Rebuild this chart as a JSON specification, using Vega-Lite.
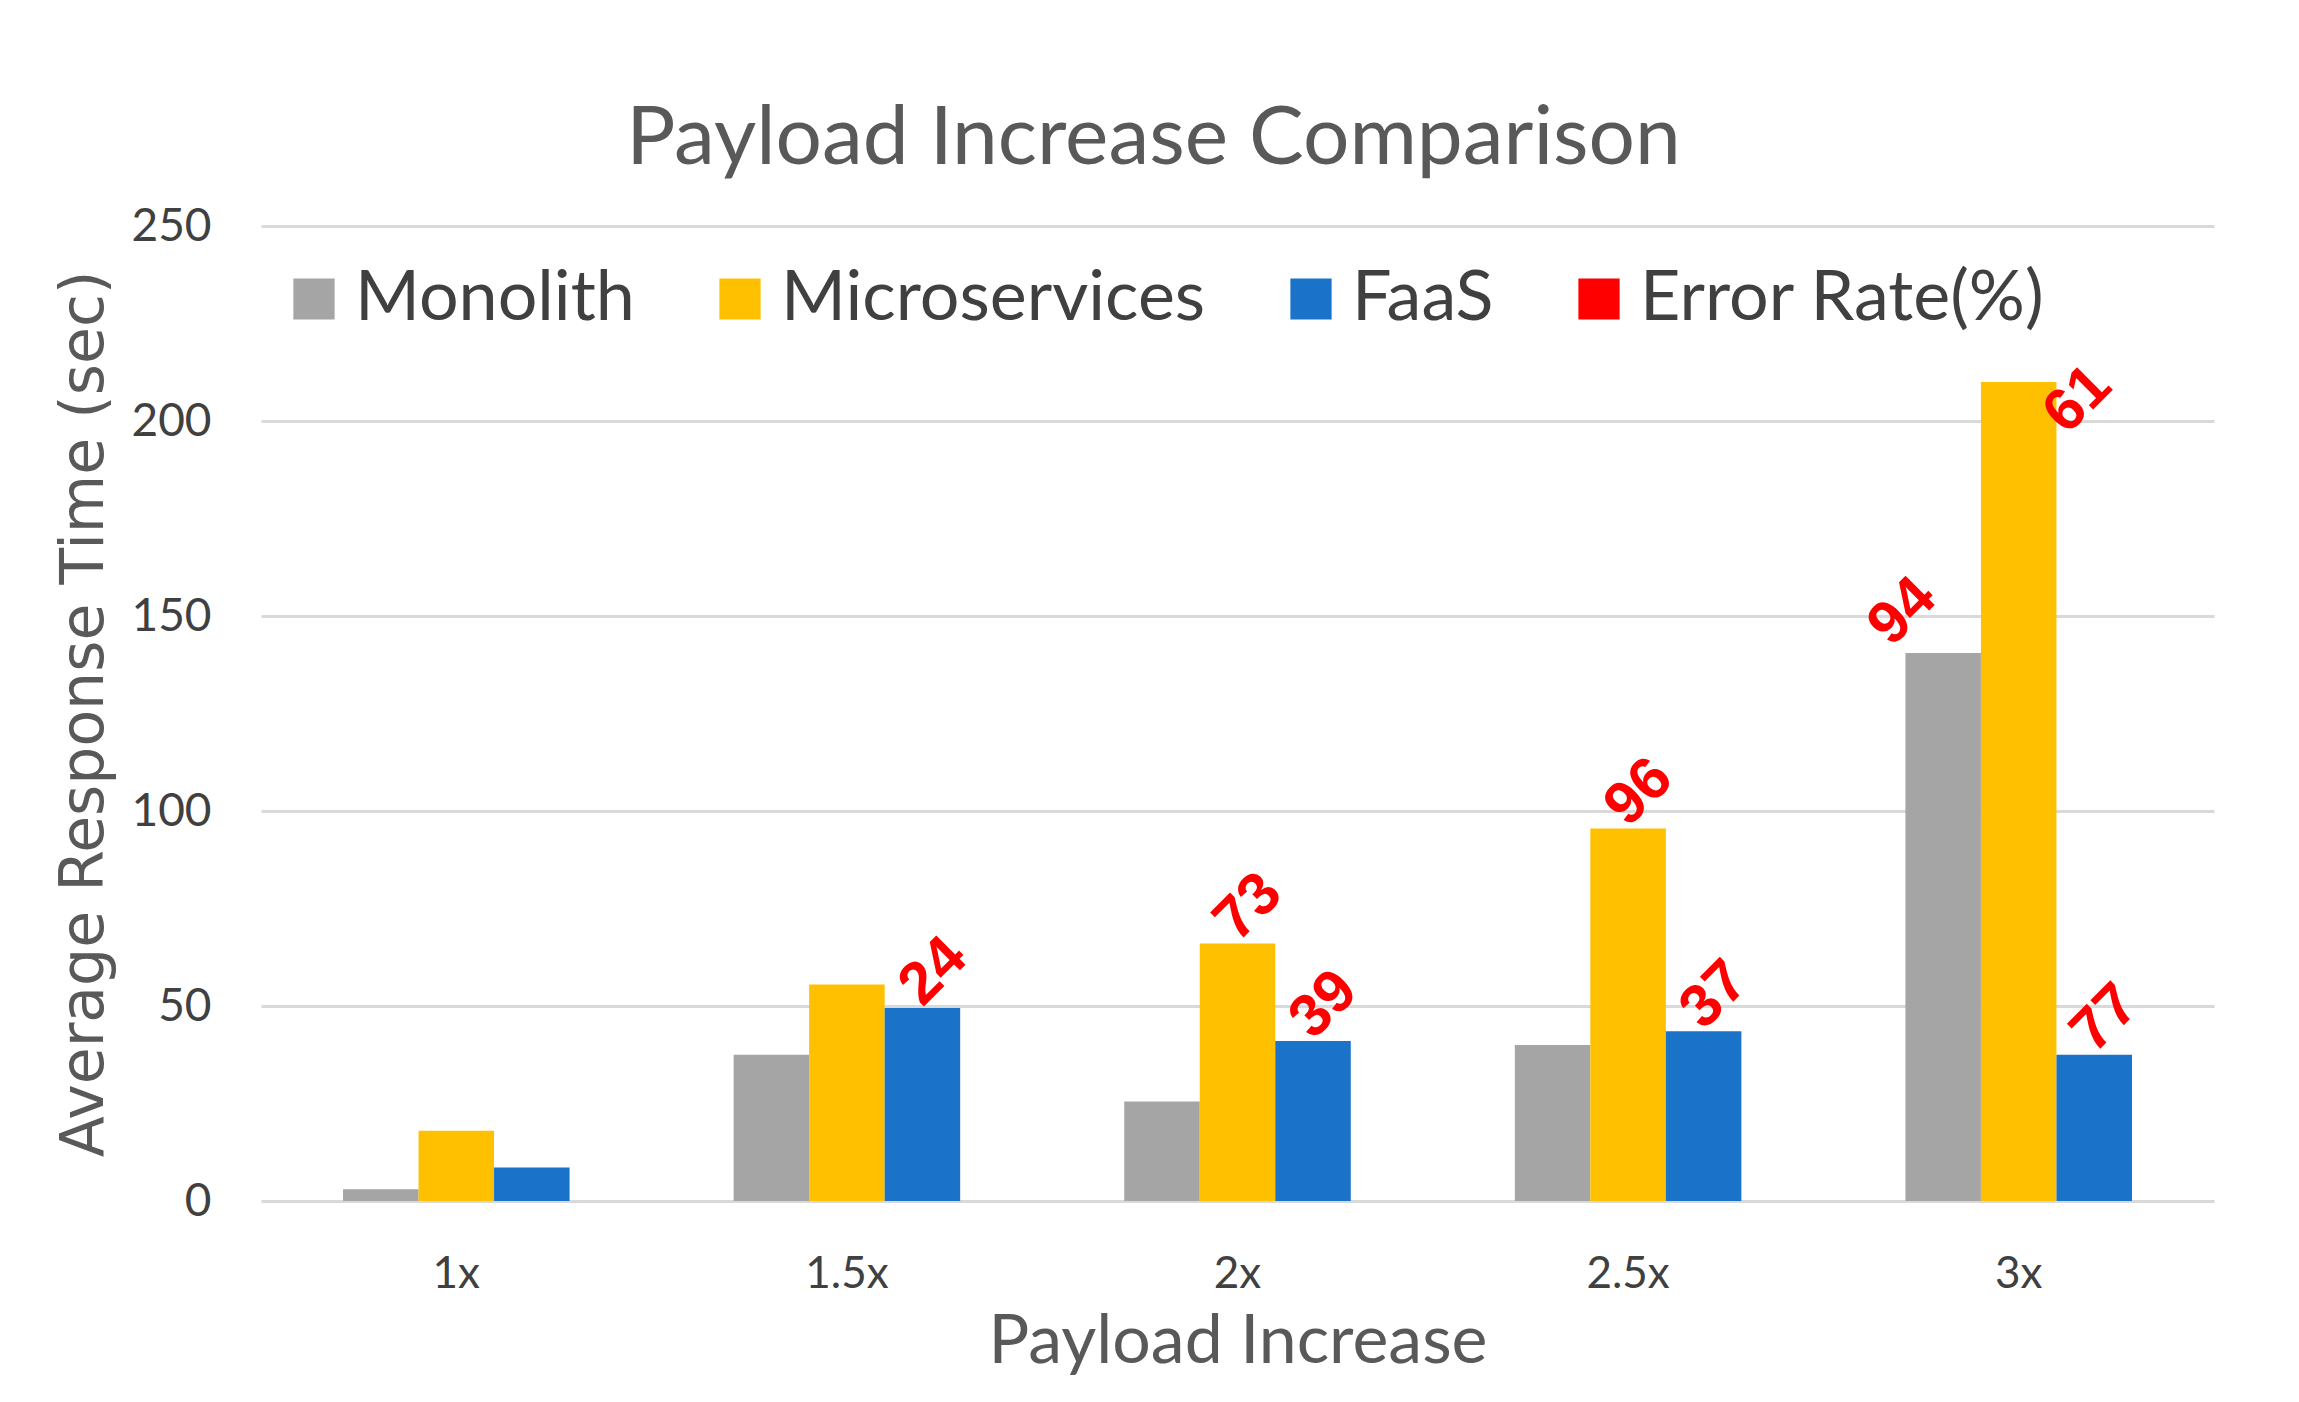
{
  "$schema": "https://vega.github.io/schema/vega-lite/v6.json",
  "autosize": {"type": "none"},
  "width": 1953,
  "height": 975,
  "padding": {"left": 261, "top": 226, "right": 85, "bottom": 201},
  "background": "white",
  "title": {
    "text": "Payload Increase Comparison",
    "font": "Lato",
    "fontSize": 82,
    "fontWeight": "normal",
    "color": "#595959",
    "anchor": "middle",
    "dx": -84,
    "offset": 22
  },
  "data": {
    "values": [
      {"payload": "1x", "series": "Monolith", "time": 3, "error": null},
      {"payload": "1x", "series": "Microservices", "time": 18, "error": null},
      {"payload": "1x", "series": "FaaS", "time": 8.6, "error": null},
      {"payload": "1.5x", "series": "Monolith", "time": 37.5, "error": null},
      {"payload": "1.5x", "series": "Microservices", "time": 55.5, "error": null},
      {"payload": "1.5x", "series": "FaaS", "time": 49.5, "error": 24},
      {"payload": "2x", "series": "Monolith", "time": 25.5, "error": null},
      {"payload": "2x", "series": "Microservices", "time": 66, "error": 73},
      {"payload": "2x", "series": "FaaS", "time": 41, "error": 39},
      {"payload": "2.5x", "series": "Monolith", "time": 40, "error": null},
      {"payload": "2.5x", "series": "Microservices", "time": 95.5, "error": 96},
      {"payload": "2.5x", "series": "FaaS", "time": 43.5, "error": 37},
      {"payload": "3x", "series": "Monolith", "time": 140.5, "error": 94},
      {"payload": "3x", "series": "Microservices", "time": 210, "error": 61},
      {"payload": "3x", "series": "FaaS", "time": 37.5, "error": 77}
    ]
  },
  "encoding": {
    "x": {
      "field": "payload",
      "type": "nominal",
      "scale": {"domain": ["1x", "1.5x", "2x", "2.5x", "3x"], "paddingInner": 0.42, "paddingOuter": 0.21},
      "axis": {
        "title": "Payload Increase",
        "domain": false,
        "ticks": false,
        "labelAngle": 0,
        "labelFont": "Lato",
        "labelFontSize": 44,
        "labelColor": "#404040",
        "labelPadding": 51,
        "titleFont": "Lato",
        "titleFontSize": 68,
        "titleFontWeight": "normal",
        "titleColor": "#595959",
        "titlePadding": 12
      }
    },
    "xOffset": {
      "field": "series",
      "type": "nominal",
      "scale": {"domain": ["Monolith", "Microservices", "FaaS"], "paddingInner": 0, "paddingOuter": 0}
    },
    "y": {
      "field": "time",
      "type": "quantitative",
      "scale": {"domain": [0, 250], "nice": false},
      "axis": {
        "title": "Average Response Time (sec)",
        "values": [0, 50, 100, 150, 200, 250],
        "grid": true,
        "gridColor": "#D9D9D9",
        "gridWidth": 3,
        "domain": false,
        "ticks": false,
        "labelFont": "Lato",
        "labelFontSize": 46,
        "labelColor": "#404040",
        "labelPadding": 50,
        "titleFont": "DejaVu Sans",
        "titleFontSize": 60,
        "titleFontWeight": "normal",
        "titleColor": "#595959",
        "titlePadding": 15
      }
    }
  },
  "layer": [
    {
      "mark": {"type": "bar"},
      "encoding": {
        "color": {
          "field": "series",
          "type": "nominal",
          "scale": {
            "domain": ["Monolith", "Microservices", "FaaS", "Error Rate(%)"],
            "range": ["#A5A5A5", "#FFC000", "#1A73C8", "#FF0000"]
          },
          "legend": {
            "orient": "none",
            "legendX": 18,
            "legendY": 38,
            "direction": "horizontal",
            "columns": 4,
            "title": null,
            "symbolType": "square",
            "symbolSize": 1700,
            "symbolStrokeWidth": 0,
            "symbolOpacity": 1,
            "labelFont": "Lato",
            "labelFontSize": 70,
            "labelColor": "#404040",
            "labelOffset": 6,
            "labelLimit": 700,
            "columnPadding": 70
          }
        }
      }
    },
    {
      "transform": [{"filter": "datum.error != null && datum.payload != '3x' || datum.series == 'FaaS' && datum.error != null"}],
      "mark": {"type": "text", "angle": 315, "align": "left", "baseline": "alphabetic", "font": "Liberation Sans", "fontWeight": "bold", "fontSize": 60, "color": "#FF0000", "dx": 0, "dy": 0},
      "encoding": {"text": {"field": "error", "type": "quantitative"}}
    },
    {
      "transform": [{"filter": "datum.payload == '3x' && datum.series == 'Monolith'"}],
      "mark": {"type": "text", "angle": 315, "align": "left", "baseline": "alphabetic", "font": "Liberation Sans", "fontWeight": "bold", "fontSize": 60, "color": "#FF0000", "dx": -33, "dy": -40},
      "encoding": {"text": {"field": "error", "type": "quantitative"}}
    },
    {
      "transform": [{"filter": "datum.payload == '3x' && datum.series == 'Microservices'"}],
      "mark": {"type": "text", "angle": 315, "align": "left", "baseline": "alphabetic", "font": "Liberation Sans", "fontWeight": "bold", "fontSize": 60, "color": "#FF0000", "dx": -4, "dy": 72},
      "encoding": {"text": {"field": "error", "type": "quantitative"}}
    }
  ],
  "config": {"view": {"stroke": null}}
}
